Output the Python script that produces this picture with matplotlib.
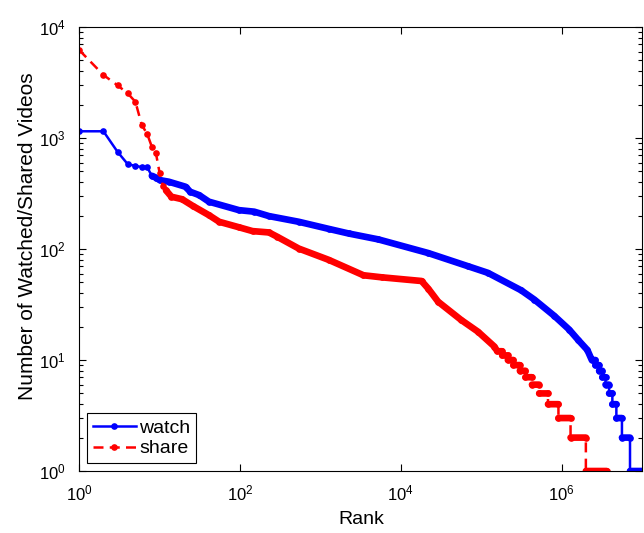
import numpy as np
import matplotlib
matplotlib.use('Agg')
from matplotlib import pyplot as plt
from matplotlib.ticker import FixedLocator, LogLocator, NullLocator, LogFormatterSciNotation

plt.rcParams['font.family'] = ['Liberation Sans', 'DejaVu Sans']
plt.rcParams['mathtext.fontset'] = 'custom'
plt.rcParams['mathtext.rm'] = 'Liberation Sans'

# Rank / count pairs (tail kept as integer steps)
watch_rank = [1, 2, 3, 4, 5, 6, 7, 8, 9, 10,
              13, 21, 24, 31, 41, 97, 150, 229, 537, 1260,
              2240, 5270, 21900, 68400, 121000, 313000, 458000, 809000, 1.24e6, 1.6e6,
              2.09e6,
              2.37e6, 2.63e6, 2.63e6, 2.92e6, 2.92e6, 3.2e6, 3.2e6, 3.51e6, 3.51e6,
              3.89e6, 3.89e6, 4.27e6, 4.27e6, 4.79e6, 4.79e6, 5.62e6, 5.62e6, 7.08e6,
              7.08e6, 1e7]
watch_count = [1150, 1150, 750, 583, 560, 548, 545, 457, 440, 418,
               404, 364, 328, 306, 267, 224, 217, 198, 176, 152,
               138, 122, 92, 70, 61, 42.5, 35, 25, 18.8, 15.2,
               12.3,
               10, 10, 9, 9, 8, 8, 7, 7, 6,
               6, 5, 5, 4, 4, 3, 3, 2, 2,
               1, 1]

share_rank = [1, 2, 3, 4, 5, 6, 7, 8, 9, 10,
              11, 12, 14, 19, 26, 41, 55, 97, 143, 229,
              290, 537, 1260, 3430, 5780, 18100, 21900, 29100, 56500, 91000,
              146000,
              1.58e5, 1.82e5, 1.82e5, 2.14e5, 2.14e5, 2.51e5, 2.51e5, 3.02e5, 3.02e5,
              3.55e5, 3.55e5, 4.27e5, 4.27e5, 5.25e5, 5.25e5, 6.76e5, 6.76e5, 9.12e5,
              9.12e5, 1.29e6, 1.29e6, 2.0e6, 2.0e6, 3.63e6]
share_count = [6200, 3700, 2980, 2530, 2120, 1310, 1090, 835, 728, 485,
               370, 338, 296, 281, 244, 202, 176, 157, 145, 141,
               129, 101, 80, 58, 55.6, 51.5, 44, 33.5, 22.9, 18,
               13.2,
               12, 12, 11, 11, 10, 10, 9, 9, 8,
               8, 7, 7, 6, 6, 5, 5, 4, 4,
               3, 3, 2, 2, 1, 1]

x_ticks = [1, 1e2, 1e4, 1e6]

# index where the markers get dense enough to look like a solid band
watch_dense = 7
share_dense = 11


def band(ax, x, y, color):
    # thick overlay for the dense part, vertical drops left thin
    xs, ys = [], []
    for i in range(len(x)):
        if i > 0 and x[i] == x[i - 1]:
            xs.append(np.nan)
            ys.append(np.nan)
        xs.append(x[i])
        ys.append(y[i])
    ax.plot(xs, ys, color=color, lw=4.8, solid_capstyle='round')


fig = plt.figure(figsize=(6.44, 5.33), dpi=100)
ax = fig.add_axes([0.123, 0.1163, 0.874, 0.833])

l1, = ax.plot(watch_rank, watch_count, color='b', lw=1.8, marker='o', ms=4.8, mew=0)
band(ax, watch_rank[watch_dense:], watch_count[watch_dense:], 'b')
l2, = ax.plot(share_rank, share_count, color='r', lw=1.8, ls='--', dashes=(4, 2.5),
              marker='o', ms=4.8, mew=0)
band(ax, share_rank[share_dense:], share_count[share_dense:], 'r')

ax.set_xscale('log')
ax.set_yscale('log')
ax.set_xlim(1, 1e7)
ax.set_ylim(1, 1e4)

ax.xaxis.set_major_locator(FixedLocator(x_ticks))
ax.xaxis.set_major_formatter(LogFormatterSciNotation())
ax.xaxis.set_minor_locator(NullLocator())
ax.yaxis.set_major_locator(LogLocator(base=10))
ax.yaxis.set_minor_locator(LogLocator(base=10, subs=np.arange(2, 10)))

ax.tick_params(which='both', direction='in', top=True, right=True, width=0.8)
ax.tick_params(which='major', length=5, labelsize=12)
ax.tick_params(which='minor', length=3)
ax.tick_params(axis='x', pad=9)
ax.tick_params(axis='y', pad=10)
for s in ax.spines.values():
    s.set_linewidth(0.8)

ax.set_xlabel('Rank', fontsize=14)
ax.set_ylabel('Number of Watched/Shared Videos', fontsize=15)
ax.xaxis.set_label_coords(0.502, -0.09)
ax.yaxis.set_label_coords(-0.075, 0.53)

leg = ax.legend([l1, l2], ['watch', 'share'], loc='lower left', fontsize=14,
                numpoints=1, fancybox=False, framealpha=1, edgecolor='k',
                handlelength=2.2, handletextpad=0.2, labelspacing=0.15,
                borderpad=0.3, borderaxespad=0.4)
leg.get_frame().set_linewidth(0.8)

fig.savefig('out.png', dpi=100)
